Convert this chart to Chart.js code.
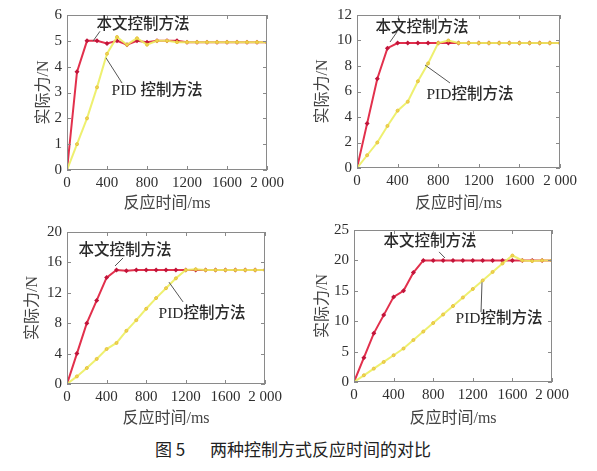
<!DOCTYPE html>
<html>
<head>
<meta charset="utf-8">
<script src="https://cdn.jsdelivr.net/npm/chart.js@4.4.0/dist/chart.umd.min.js"></script>
<style>
  body { margin: 0; background: #fff; }
  #page { position: relative; width: 597px; height: 471px; background: #fff; }
  #page canvas { position: absolute; }
  .cap {
    position: absolute; top: 436px; font: 17px 'Noto Sans CJK SC', sans-serif;
    color: #222; white-space: pre;
  }
</style>
</head>
<body>
<div id="page">
  <canvas id="c1" width="290" height="215" style="left:0;top:0"></canvas>
  <canvas id="c2" width="300" height="215" style="left:297px;top:0"></canvas>
  <canvas id="c3" width="290" height="215" style="left:0;top:215px"></canvas>
  <canvas id="c4" width="300" height="215" style="left:297px;top:215px"></canvas>
  <div class="cap" style="left:155px">图 5</div>
  <div class="cap" style="left:210px">两种控制方式反应时间的对比</div>
</div>
<script>
// Response time samples (ms)
const times = [0, 100, 200, 300, 400, 500, 600, 700, 800, 900, 1000,
               1100, 1200, 1300, 1400, 1500, 1600, 1700, 1800, 1900, 2000];
const xTickLabels = ['0', '400', '800', '1200', '1600', '2 000'];

// target 5 N
const ours5 = [0, 3.8, 5.0, 5.0, 4.9, 5.0, 4.85, 5.0, 4.95, 5.0, 5.0, 5.0, 4.95, 4.95, 4.95, 4.95, 4.95, 4.95, 4.95, 4.95, 4.95];
const pid5  = [0, 1.0, 2.0, 3.2, 4.5, 5.15, 4.85, 5.1, 4.85, 5.0, 5.0, 4.95, 4.95, 4.95, 4.95, 4.95, 4.95, 4.95, 4.95, 4.95, 4.95];
// target 10 N
const ours10 = [0, 3.5, 7.0, 9.4, 9.8, 9.8, 9.8, 9.8, 9.8, 9.8, 9.8, 9.8, 9.8, 9.8, 9.8, 9.8, 9.8, 9.8, 9.8, 9.8, 9.8];
const pid10  = [0, 1.0, 2.0, 3.3, 4.5, 5.2, 6.8, 8.2, 9.8, 10.0, 9.8, 9.8, 9.8, 9.8, 9.8, 9.8, 9.8, 9.8, 9.8, 9.8, 9.8];
// target 15 N
const ours15 = [0, 4, 8, 11, 14, 15, 14.9, 15, 15, 15, 15, 15, 15, 15, 15, 15, 15, 15, 15, 15, 15];
const pid15  = [0, 1.0, 2.1, 3.3, 4.6, 5.4, 7.0, 8.4, 9.9, 11.3, 12.6, 13.9, 15.0, 15.1, 15.0, 15.0, 15.0, 15.0, 15.0, 15.0, 15.0];
// target 20 N
const ours20 = [0, 4, 8, 11, 14, 15, 18, 20, 20, 20, 20, 20, 20, 20, 20, 20, 20, 20, 20, 20, 20];
const pid20  = [0, 1.1, 2.2, 3.3, 4.4, 5.5, 6.9, 8.3, 9.7, 11.1, 12.5, 13.9, 15.3, 16.7, 18.1, 19.5, 20.8, 20.0, 19.9, 20.0, 20.0];

const serif = "'Liberation Serif', 'Noto Sans CJK SC', serif";
const textColor = '#2e2e2e';

// box with inward ticks on all four sides, plus the callout labels
const boxPlugin = {
  id: 'box',
  afterDatasetsDraw(chart) {
    const { ctx, chartArea: a, scales: { x, y } } = chart;
    ctx.save();
    ctx.strokeStyle = '#8a8a8a';
    ctx.lineWidth = 1;
    ctx.strokeRect(a.left + 0.5, a.top + 0.5, a.right - a.left - 1, a.bottom - a.top - 1);
    ctx.beginPath();
    x.ticks.forEach(t => {
      const px = Math.round(x.getPixelForValue(t.value)) + 0.5;
      ctx.moveTo(px, a.bottom); ctx.lineTo(px, a.bottom - 4);
      ctx.moveTo(px, a.top); ctx.lineTo(px, a.top + 4);
    });
    y.ticks.forEach(t => {
      const py = Math.round(y.getPixelForValue(t.value)) + 0.5;
      ctx.moveTo(a.left, py); ctx.lineTo(a.left + 4, py);
      ctx.moveTo(a.right, py); ctx.lineTo(a.right - 4, py);
    });
    ctx.stroke();

    const notes = chart.options.plugins.box.notes || [];
    notes.forEach(n => {
      ctx.strokeStyle = '#555';
      ctx.lineWidth = 1;
      ctx.beginPath();
      ctx.moveTo(x.getPixelForValue(n.line[0]), y.getPixelForValue(n.line[1]));
      ctx.lineTo(x.getPixelForValue(n.line[2]), y.getPixelForValue(n.line[3]));
      ctx.stroke();
      ctx.fillStyle = '#2a2a2a';
      ctx.font = '500 15.5px ' + serif;
      ctx.textAlign = 'center';
      ctx.textBaseline = 'middle';
      ctx.fillText(n.text, x.getPixelForValue(n.at[0]), y.getPixelForValue(n.at[1]));
    });
    ctx.restore();
  }
};

function makeChart(id, ours, pid, yMax, yStep, geom, notes) {
  const toXY = arr => arr.map((v, i) => ({ x: times[i], y: v }));
  return new Chart(document.getElementById(id), {
    type: 'line',
    data: {
      datasets: [
        {
          label: 'PID控制方法',
          data: toXY(pid),
          borderColor: 'rgba(236, 238, 96, 0.9)',
          borderWidth: 2,
          pointStyle: 'circle',
          pointRadius: 1.5,
          pointBackgroundColor: '#f0d850',
          pointBorderColor: '#e6c240',
          pointBorderWidth: 1,
          tension: 0,
          order: 0
        },
        {
          label: '本文控制方法',
          data: toXY(ours),
          borderColor: '#e2304c',
          borderWidth: 2,
          pointStyle: 'rectRot',
          pointRadius: 2.5,
          pointBackgroundColor: '#c2143a',
          pointBorderColor: '#c2143a',
          pointBorderWidth: 0,
          tension: 0,
          order: 1
        }
      ]
    },
    options: {
      responsive: false,
      animation: false,
      layout: { padding: { left: 0, right: geom.right, top: geom.top, bottom: 0 } },
      plugins: {
        legend: { display: false },
        tooltip: { enabled: false },
        box: { notes: notes }
      },
      scales: {
        x: {
          type: 'linear',
          min: 0,
          max: 2000,
          afterFit: s => { s.height = geom.xh; },
          afterBuildTicks: s => { s.ticks = [0, 400, 800, 1200, 1600, 2000].map(v => ({ value: v })); },
          grid: { display: false, drawTicks: false },
          border: { display: false },
          ticks: {
            color: textColor,
            padding: 4,
            maxRotation: 0,
            font: { family: serif, size: 15 },
            callback: (v, i) => xTickLabels[i]
          },
          title: {
            display: true,
            text: '反应时间/ms',
            color: '#444',
            padding: { bottom: geom.xtp },
            font: { family: serif, size: 16 }
          }
        },
        y: {
          min: 0,
          max: yMax,
          afterFit: s => { s.width = geom.yw; },
          grid: { display: false, drawTicks: false },
          border: { display: false },
          ticks: {
            stepSize: yStep,
            color: textColor,
            padding: 5,
            font: { family: serif, size: 15 }
          },
          title: {
            display: true,
            text: '实际力/N',
            color: '#444',
            padding: { top: geom.ytp },
            font: { family: serif, size: 16 }
          }
        }
      }
    },
    plugins: [boxPlugin]
  });
}

makeChart('c1', ours5, pid5, 6, 1,
  { right: 23, top: 15, xh: 45, yw: 67, xtp: 2, ytp: 34 },
  [
    { text: '本文控制方法', at: [760, 5.61], line: [330, 5.37, 260, 4.99] },
    { text: 'PID 控制方法', at: [900, 3.06], line: [390, 4.34, 550, 3.37] }
  ]);

makeChart('c2', ours10, pid10, 12, 2,
  { right: 37, top: 15, xh: 47, yw: 60, xtp: 2, ytp: 16 },
  [
    { text: '本文控制方法', at: [640, 10.98], line: [394, 10.67, 325, 9.88] },
    { text: 'PID控制方法', at: [1113, 5.73], line: [670, 8.08, 916, 6.67] }
  ]);

makeChart('c3', ours15, pid15, 20, 4,
  { right: 25, top: 17, xh: 46, yw: 67, xtp: 2, ytp: 23 },
  [
    { text: '本文控制方法', at: [586, 17.5], line: [566, 16.58, 485, 15.53] },
    { text: 'PID控制方法', at: [1364, 9.2], line: [1030, 13.4, 1172, 10.8] }
  ]);

makeChart('c4', ours20, pid20, 25, 5,
  { right: 45, top: 15, xh: 48, yw: 57, xtp: 2, ytp: 16 },
  [
    { text: '本文控制方法', at: [768, 23.0], line: [859, 21.4, 919, 20.4] },
    { text: 'PID控制方法', at: [1465, 10.4], line: [1293, 16.4, 1283, 11.5] }
  ]);
</script>
</body>
</html>
